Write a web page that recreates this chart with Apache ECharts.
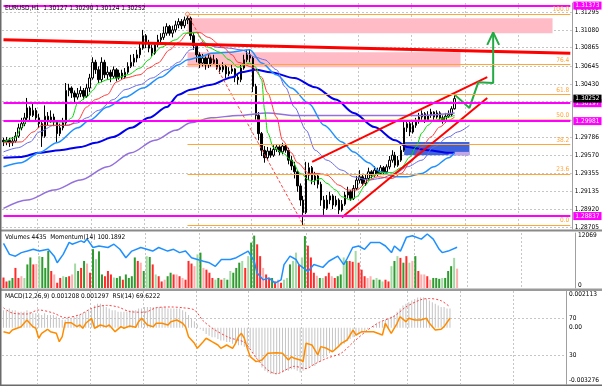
<!DOCTYPE html>
<html>
<head>
<meta charset="utf-8">
<script src="https://cdn.jsdelivr.net/npm/echarts@6/dist/echarts.min.js"></script>
<style>
  html, body { margin: 0; padding: 0; background: #fff; }
  #chart { width: 602px; height: 386px; }
</style>
</head>
<body>
<div id="chart"></div>
<script>
// EURUSD H1 - candles, 6 moving averages, volumes + momentum, MACD + RSI
const FONT = "'Liberation Sans Narrow','DejaVu Sans Condensed','Liberation Sans',sans-serif";
const SLOTS = 192; // bar slots incl. empty right margin

const firstOpen = 1.2975;
const closes = [1.2973,1.2975,1.2972,1.2974,1.2980,1.2990,1.2995,1.3002,1.3014,1.3005,1.3011,1.3002,1.2995,1.2980,1.3004,1.2999,1.3003,1.2997,1.2983,1.2990,
  1.2996,1.3035,1.3038,1.3032,1.3027,1.3031,1.3035,1.3028,1.3038,1.3050,1.3069,1.3060,1.3048,1.3069,1.3054,1.3057,1.3052,1.3060,1.3050,1.3056,
  1.3051,1.3057,1.3064,1.3069,1.3074,1.3078,1.3086,1.3101,1.3091,1.3086,1.3080,1.3090,1.3096,1.3099,1.3104,1.3112,1.3104,1.3108,1.3114,1.3118,
  1.3113,1.3120,1.3122,1.3101,1.3089,1.3078,1.3068,1.3074,1.3066,1.3074,1.3068,1.3072,1.3063,1.3060,1.3064,1.3055,1.3058,1.3061,1.3051,1.3048,
  1.3062,1.3072,1.3078,1.3074,1.3040,1.3005,1.2983,1.2963,1.2954,1.2962,1.2957,1.2964,1.2967,1.2961,1.2968,1.2963,1.2951,1.2944,1.2937,1.2920,
  1.2903,1.2888,1.2933,1.2942,1.2927,1.2932,1.2922,1.2903,1.2893,1.2903,1.2908,1.2897,1.2903,1.2891,1.2898,1.2909,1.2913,1.2905,1.2917,1.2927,
  1.2931,1.2923,1.2929,1.2937,1.2933,1.2939,1.2935,1.2942,1.2937,1.2943,1.2951,1.2957,1.2945,1.2951,1.2963,1.2990,1.2995,1.2985,1.2993,1.2998,
  1.3003,1.3007,1.2999,1.3005,1.3009,1.3003,1.3008,1.3002,1.2998,1.3004,1.3006,1.3013,1.30252];
const highs = [1.2978,1.2979,1.2978,1.2979,1.2985,1.2995,1.3002,1.3008,1.3026,1.3016,1.3019,1.3014,1.3007,1.2997,1.3017,1.3009,1.3011,1.3007,1.2999,1.2995,
  1.3002,1.3044,1.3043,1.3040,1.3035,1.3038,1.3040,1.3038,1.3043,1.3055,1.3075,1.3072,1.3064,1.3075,1.3072,1.3064,1.3060,1.3064,1.3062,1.3060,
  1.3060,1.3062,1.3069,1.3078,1.3079,1.3084,1.3091,1.3108,1.3103,1.3096,1.3090,1.3093,1.3102,1.3104,1.3112,1.3116,1.3114,1.3113,1.3119,1.3122,
  1.3121,1.3124,1.3127,1.3124,1.3104,1.3091,1.3081,1.3079,1.3076,1.3079,1.3076,1.3078,1.3074,1.3067,1.3069,1.3067,1.3063,1.3066,1.3062,1.3055,
  1.3067,1.3078,1.3084,1.3084,1.3076,1.3043,1.3009,1.2985,1.2968,1.2967,1.2966,1.2969,1.2970,1.2969,1.2972,1.2970,1.2966,1.2956,1.2949,1.2939,
  1.2923,1.2908,1.2949,1.2948,1.2944,1.2937,1.2934,1.2925,1.2908,1.2909,1.2913,1.2910,1.2908,1.2905,1.2903,1.2913,1.2919,1.2915,1.2921,1.2932,
  1.2939,1.2934,1.2934,1.2942,1.2939,1.2944,1.2942,1.2945,1.2944,1.2946,1.2956,1.2963,1.2961,1.2956,1.2968,1.2997,1.2999,1.2997,1.2997,1.3002,
  1.3008,1.3011,1.3009,1.3010,1.3013,1.3010,1.3011,1.3010,1.3005,1.3008,1.3011,1.3016,1.3029];
const lows = [1.2968,1.2969,1.2967,1.2968,1.2972,1.2978,1.2987,1.2992,1.2999,1.2999,1.3003,1.2997,1.2990,1.2967,1.2978,1.2993,1.2996,1.2992,1.2973,1.2980,
  1.2987,1.2993,1.3028,1.3026,1.3020,1.3024,1.3027,1.3024,1.3026,1.3033,1.3048,1.3055,1.3044,1.3045,1.3050,1.3048,1.3045,1.3050,1.3046,1.3048,
  1.3048,1.3049,1.3055,1.3062,1.3064,1.3069,1.3074,1.3084,1.3086,1.3081,1.3076,1.3078,1.3087,1.3092,1.3096,1.3101,1.3101,1.3099,1.3105,1.3110,
  1.3109,1.3110,1.3115,1.3096,1.3084,1.3069,1.3062,1.3064,1.3060,1.3062,1.3064,1.3066,1.3060,1.3055,1.3057,1.3050,1.3052,1.3055,1.3045,1.3042,
  1.3045,1.3060,1.3069,1.3069,1.3033,1.2999,1.2975,1.2956,1.2948,1.2951,1.2954,1.2955,1.2961,1.2957,1.2958,1.2960,1.2946,1.2939,1.2929,1.2913,
  1.2896,1.2873,1.2886,1.2927,1.2922,1.2921,1.2917,1.2896,1.2885,1.2891,1.2898,1.2892,1.2895,1.2886,1.2889,1.2896,1.2905,1.2902,1.2903,1.2915,
  1.2923,1.2920,1.2920,1.2927,1.2929,1.2931,1.2932,1.2933,1.2933,1.2934,1.2940,1.2948,1.2942,1.2943,1.2949,1.2961,1.2985,1.2980,1.2983,1.2990,
  1.2995,1.2999,1.2996,1.2997,1.3002,1.2999,1.3001,1.2998,1.2995,1.2996,1.3002,1.3004,1.3012];

// moving averages: [bar index, price]
const maGreen = [[0,1.2973],[4,1.2978],[6,1.2990],[8,1.2999],[11,1.2999],[16,1.2997],[21,1.2997],[23,1.3002],[25,1.3020],[28,1.3027],[30,1.3035],[32,1.3044],[35,1.3048],[38,1.3050],[42,1.3054],[46,1.3062],[49,1.3072],[51,1.3081],[53,1.3087],[58,1.3096],[61,1.3104],[65,1.3105],[67,1.3096],[69,1.3087],[73,1.3081],[76,1.3072],[79,1.3063],[83,1.3068],[85,1.3063],[87,1.3048],[88,1.3011],[89,1.2984],[91,1.2966],[94,1.2960],[97,1.2951],[100,1.2935],[103,1.2927],[104,1.2925],[107,1.2929],[109,1.2923],[112,1.2915],[114,1.2907],[117,1.2903],[119,1.2907],[122,1.2921],[124,1.2931],[127,1.2936],[131,1.2936],[134,1.2942],[137,1.2955],[139,1.2967],[141,1.2984],[143,1.2993],[145,1.2999],[149,1.3002],[150,1.3003],[152,1.3005]];
const maRed = [[0,1.2972],[6,1.2973],[10,1.2985],[13,1.2993],[18,1.2993],[22,1.2993],[25,1.2999],[28,1.3015],[31,1.3024],[35,1.3030],[38,1.3045],[41,1.3050],[46,1.3054],[49,1.3062],[52,1.3068],[56,1.3084],[59,1.3093],[62,1.3104],[66,1.3105],[69,1.3099],[74,1.3087],[77,1.3078],[79,1.3069],[84,1.3063],[87,1.3051],[89,1.3032],[92,1.3003],[94,1.2975],[97,1.2960],[99,1.2948],[103,1.2935],[106,1.2935],[109,1.2933],[113,1.2921],[116,1.2915],[119,1.2915],[123,1.2927],[126,1.2931],[131,1.2929],[134,1.2935],[137,1.2948],[141,1.2967],[144,1.2979],[147,1.2991],[150,1.2999],[152,1.3003]];
const maSlate = [[0,1.2961],[5,1.2966],[9,1.2973],[12,1.2985],[17,1.2993],[21,1.2993],[25,1.2996],[28,1.3002],[32,1.3011],[37,1.3024],[41,1.3036],[46,1.3042],[50,1.3050],[55,1.3060],[59,1.3069],[63,1.3084],[67,1.3093],[72,1.3087],[76,1.3086],[80,1.3084],[85,1.3075],[88,1.3072],[92,1.3060],[95,1.3039],[98,1.3015],[102,1.2987],[105,1.2963],[109,1.2951],[114,1.2939],[118,1.2931],[123,1.2927],[127,1.2929],[132,1.2935],[136,1.2943],[141,1.2951],[145,1.2967],[150,1.2979],[153,1.2985],[157,1.2993]];
const maDodger = [[0,1.2943],[6,1.2948],[12,1.2960],[18,1.2972],[25,1.2990],[29,1.2999],[35,1.3015],[41,1.3027],[47,1.3038],[53,1.3051],[59,1.3066],[62,1.3072],[66,1.3075],[70,1.3080],[76,1.3081],[83,1.3084],[87,1.3068],[92,1.3054],[97,1.3038],[103,1.3019],[108,1.2993],[114,1.2973],[118,1.2961],[123,1.2948],[127,1.2937],[132,1.2931],[136,1.2931],[141,1.2935],[145,1.2943],[150,1.2954],[152,1.2960]];
const maBlue = [[0,1.2954],[6,1.2955],[12,1.2960],[19,1.2963],[26,1.2967],[31,1.2972],[37,1.2979],[43,1.2990],[49,1.3002],[55,1.3015],[59,1.3030],[63,1.3036],[70,1.3042],[77,1.3051],[80,1.3057],[85,1.3060],[90,1.3057],[98,1.3050],[105,1.3039],[112,1.3024],[118,1.3008],[125,1.2991],[132,1.2975],[136,1.2967],[143,1.2963],[150,1.2960],[152,1.2960]];
const maPurple = [[0,1.2893],[8,1.2903],[17,1.2915],[26,1.2927],[35,1.2943],[43,1.2960],[51,1.2975],[58,1.2987],[63,1.2996],[70,1.3002],[79,1.3005],[89,1.3008],[98,1.3005],[109,1.3005],[120,1.3005],[132,1.3005],[141,1.3005],[152,1.3008]];

// drawn objects
const magentaLevels = [1.31373, 1.30197, 1.29981, 1.28837];
const lastPrice = 1.30252;
const fibLevels = [1.3127, 1.3066, 1.3030, 1.3000, 1.2970, 1.2934, 1.2873];
const fibNames = ['100.0', '76.4', '61.8', '50.0', '38.2', '23.6', '0.0'];
const fibStart = 62;
const fibBase = [[62, 1.3127], [101, 1.2873]];
const trendLine = [[0, 1.3096], [191, 1.3080]];
const channelTop = [[104, 1.2949], [163, 1.3051]];
const channelBottom = [[114, 1.2882], [163, 1.3026]];
const arrowPath = [[152, 1.3030], [157, 1.3014], [160, 1.3045], [165, 1.3044], [165, 1.3105]];
const arrowHead = [[163, 1.3090], [165, 1.3105], [167, 1.3090]];
const pinkZones = [[[62, 1.3122], [185, 1.3104]], [[62, 1.3081], [154, 1.3063]]];
const blueZone = [[135, 1.2973], [157, 1.2957]];
const blueZoneTail = [[150, 1.2961], [157, 1.2957]];

const priceTicks = [1.31295,1.31080,1.30865,1.30645,1.30430,1.30215,1.29995,1.29786,1.29570,1.29355,1.29135,1.28920,1.28705];
const priceLabels = [1.31295,1.31080,1.30865,1.30645,1.30430,1.29786,1.29570,1.29355,1.29135,1.28920,1.28705];

// volumes: value + kind (G up, L up weak, R down, P down weak)
const volumes = [2400,1500,1700,2300,4600,2300,2700,2300,5400,7000,5400,5500,7300,7100,4600,8500,3900,3100,1200,2300,
  2700,2500,2700,3100,5600,3900,4600,6200,5600,3500,8900,6600,8400,3100,2700,3900,3100,2400,2300,2700,
  1900,3100,2300,2700,7000,6200,5800,3900,7300,7100,5400,3100,2700,1500,1900,2700,3500,3100,3100,2700,
  2300,1900,6200,5600,5000,7700,8100,4600,4200,3500,2300,1900,2300,1900,2300,1900,3900,3500,4600,5800,
  6200,4600,7300,10400,12000,10000,7300,4600,3100,2300,2300,1500,1900,1200,1900,2300,5400,6200,8100,5400,
  7000,11900,9700,7000,3500,2800,2300,2300,2700,3500,2700,2300,2700,3100,7000,6200,6200,6000,8500,5800,
  4200,2700,2300,2700,1900,2300,1900,1500,1900,1500,5000,6200,7300,6900,5800,7300,5800,6200,7300,3900,
  3100,3100,2700,1900,2300,2300,2100,2300,2300,3900,5000,6900,4435];
const volumeKind = ('RRGGRRPLGGRPLGGGRPRRLGRPLGRGPRGLGGRRRLGGRGGGGRPGLGRLRRPGGRPRPRRRPLGPRRRLGRLGLGGGLRLGGRRPRRGRPRLLGLLRLGRRRPGLRRPRGGLGRRLRRRPPGLGLRRLGLRGRLPGRPPRPGGGLGGGLP').split('');
const momentum = [[0,100.34],[2,99.91],[4,99.84],[6,99.98],[8,100.04],[10,100.11],[12,100.04],[15,100.11],[17,99.84],[18,99.58],[20,99.91],[22,100.38],[23,100.31],[26,100.44],[27,100.38],[28,100.51],[30,100.18],[32,100.24],[35,100.18],[37,100.31],[39,100.11],[41,99.78],[43,100.04],[46,100.18],[48,100.11],[50,100.04],[52,100.18],[55,100.04],[57,100.11],[59,99.98],[61,100.04],[63,99.78],[65,99.71],[67,99.64],[69,99.58],[71,99.44],[73,99.71],[76,99.71],[78,99.78],[80,99.91],[82,100.04],[84,99.64],[85,99.18],[87,98.91],[89,98.98],[91,98.78],[93,98.91],[94,99.51],[96,99.84],[98,99.71],[99,99.51],[102,99.24],[104,99.51],[107,99.40],[109,99.64],[112,99.84],[114,99.51],[115,99.71],[117,100.18],[119,100.24],[121,100.11],[123,100.38],[126,100.38],[128,100.24],[130,99.98],[131,100.24],[133,100.04],[135,100.58],[137,100.64],[140,100.51],[142,100.71],[144,100.51],[146,100.11],[147,99.98],[149,100.04],[152,100.19]];

// MACD(12,26,9) main as histogram, signal dotted; RSI(14)
const macdHist = [0.0011,0.0011,0.0012,0.0011,0.0011,0.0010,0.0010,0.0010,0.0011,0.0010,0.0009,0.0009,0.0009,0.0008,0.0009,0.0008,0.0008,0.0008,
  0.0007,0.0006,0.0005,0.0005,0.0006,0.0006,0.0007,0.0007,0.0008,0.0009,0.0010,0.0011,0.0012,0.0014,0.0015,0.0015,0.0014,
  0.0013,0.0012,0.0011,0.0011,0.0010,0.0010,0.0010,0.0010,0.0011,0.0011,0.0011,0.0012,0.0012,0.0013,0.0013,0.0013,0.0013,0.0013,
  0.0013,0.0013,0.0013,0.0012,0.0012,0.0012,0.0012,0.0012,0.0011,0.0010,0.0008,0.0006,0.0004,0.0002,
  -0.0001,-0.0002,-0.0004,-0.0005,-0.0006,-0.0006,-0.0007,-0.0008,-0.0008,-0.0009,-0.0009,-0.0010,-0.0010,-0.0011,
  -0.0011,-0.0012,-0.0012,-0.0013,-0.0016,-0.0019,-0.0022,-0.0025,-0.0027,-0.0028,-0.0029,-0.0029,-0.0029,-0.0028,-0.0028,-0.0027,
  -0.0027,-0.0026,-0.0026,-0.0027,-0.0028,-0.0027,-0.0026,-0.0025,-0.0024,-0.0024,-0.0022,-0.0021,-0.0019,-0.0018,-0.0016,-0.0015,
  -0.0014,-0.0012,-0.0011,-0.0010,-0.0008,-0.0007,-0.0006,-0.0005,-0.0004,-0.0003,-0.0002,-0.0001,0.0000,0.0001,0.0002,0.0003,
  0.0004,0.0005,0.0006,0.0007,0.0008,0.0010,0.0012,0.0014,0.0015,0.0016,0.0017,0.0018,0.0019,0.0019,0.0019,0.0018,
  0.0017,0.0016,0.0015,0.0014,0.0013,0.0013,0.0012,0.0012];
const macdSignal = [[0,0.00125],[3,0.00092],[8,0.00086],[12,0.00111],[17,0.00092],[21,0.00063],[26,0.00082],[30,0.00121],[35,0.0014],[39,0.0013],[43,0.00101],[48,0.00097],[52,0.00125],[57,0.0013],[61,0.00125],[65,0.00111],[68,0.00043],[72,-0.00014],[77,-0.00063],[82,-0.00092],[86,-0.00188],[90,-0.00265],[93,-0.00289],[96,-0.00265],[99,-0.00242],[103,-0.00256],[106,-0.00227],[110,-0.00192],[115,-0.00159],[119,-0.00092],[124,-0.00014],[128,0.00034],[133,0.00072],[137,0.0013],[142,0.00175],[145,0.00183],[149,0.00169],[152,0.0013]];
const rsi = [[0,55.2],[2,53.4],[3,57],[6,60.6],[7,64.3],[8,67.8],[10,60.6],[11,58.9],[12,48.1],[13,53.4],[15,57.8],[16,55.2],[18,53.4],[19,44.4],[20,49.8],[21,64.9],[23,64.9],[25,60.6],[26,62.4],[27,58.9],[28,64.3],[30,69.7],[31,58.9],[33,62.4],[35,60.6],[36,62.4],[38,55.2],[40,60.6],[41,58.9],[43,61.4],[45,59.9],[46,66],[47,69.7],[49,62.4],[51,60.6],[52,64.3],[54,64.3],[56,62.4],[57,66],[59,67.8],[61,64.3],[62,60.6],[63,49.8],[65,42.6],[66,37.2],[67,40.8],[68,44.4],[69,48.1],[71,44.4],[73,40.8],[74,37.2],[76,40.8],[78,37.2],[79,42.6],[80,49.8],[81,53.4],[82,48.1],[83,37.2],[84,28.2],[86,22.8],[88,24.6],[90,31.8],[93,32.5],[95,31.8],[97,24.6],[98,28.2],[99,26.4],[101,24.6],[102,22.8],[103,42.6],[105,40.8],[107,30],[108,39],[110,37.2],[112,33.5],[114,39],[115,42.6],[117,46.2],[119,57],[120,51.6],[122,55.2],[124,55.2],[126,55.2],[129,51.6],[130,64.3],[132,53.4],[134,64.3],[135,71.4],[137,66],[138,69.7],[140,67.8],[142,67.8],[144,69.7],[145,64.3],[147,57],[149,57.8],[150,60.6],[152,69.7]];

const slots = Array.from({ length: SLOTS }, (_, i) => String(i));
const candles = closes.map((c, i) => [i ? closes[i - 1] : firstOpen, c, lows[i], highs[i]]);
const volColors = { G: '#2f9a2f', L: '#a3d9a3', R: '#ff2b2b', P: '#ffadad' };

const chart = echarts.init(document.getElementById('chart'));

const lbl = { fontSize: 6.5, color: '#000', fontFamily: FONT, margin: 3 };
const gridDash = { color: '#c6c6c6', type: [2, 2], width: 1 };
const vGrid = (idx) => idx >= 12 && (idx - 12) % 18 === 0;
const xAx = (g) => ({
  type: 'category', gridIndex: g, data: slots, boundaryGap: true,
  axisLine: { show: false }, axisTick: { show: false }, axisLabel: { show: false },
  splitLine: { show: true, interval: vGrid, lineStyle: gridDash }
});
const rightLine = { show: true, lineStyle: { color: '#a0a0a0', width: 1 } };

const line = (data, color, width, extra) => Object.assign({
  type: 'line', xAxisIndex: 0, yAxisIndex: 0, data, showSymbol: false, symbol: 'none',
  lineStyle: { color, width }, z: 3, silent: true
}, extra || {});
const ma = (data, color, width) => line(data, color, width, { smooth: 0.3, smoothMonotone: 'x' });

const boxLabel = (text, bg) => ({
  show: true, position: 'end', distance: 3, formatter: text, color: '#fff',
  backgroundColor: bg, fontSize: 6.5, fontFamily: FONT, padding: [1, 2, 0, 2]
});

// horizontal levels as two-point mark lines across the whole panel
const levelLines = [];
magentaLevels.forEach(v => levelLines.push([
  { coord: [0, v], lineStyle: { color: '#ff00ff', width: 2, type: 'solid' }, label: boxLabel(v.toFixed(5), '#ff00ff') },
  { coord: [SLOTS - 1, v] }
]));
levelLines.push([
  { coord: [0, lastPrice], lineStyle: { color: 'rgba(0,0,0,0)', width: 1 }, label: boxLabel(lastPrice.toFixed(5), '#000') },
  { coord: [SLOTS - 1, lastPrice] }
]);
fibLevels.forEach((v, k) => levelLines.push([
  { coord: [fibStart, v], lineStyle: { color: k === 3 ? '#e8b400' : '#ffa53a', width: 1, type: k === 3 ? 'dotted' : 'solid' },
    label: { show: true, position: 'insideEndTop', formatter: fibNames[k], color: '#ffa53a', fontSize: 6.5, fontFamily: FONT, distance: 1 } },
  { coord: [SLOTS - 1, v] }
]));

const option = {
  animation: false,
  backgroundColor: '#fff',
  textStyle: { fontFamily: FONT },
  grid: [
    { left: 2, top: 3, width: 573, height: 226 },
    { left: 2, top: 233, width: 573, height: 55 },
    { left: 2, top: 291, width: 573, height: 93 }
  ],
  xAxis: [xAx(0), xAx(1), xAx(2)],
  yAxis: [
    { type: 'value', gridIndex: 0, position: 'right', min: 1.28681, max: 1.31404, axisLine: rightLine,
      axisTick: { show: false, customValues: priceTicks },
      axisLabel: Object.assign({ customValues: priceLabels, formatter: v => v.toFixed(5) }, lbl),
      splitLine: { show: true, lineStyle: gridDash } },
    { type: 'value', gridIndex: 1, position: 'right', min: 0, max: 12600, axisLine: rightLine,
      axisTick: { show: false },
      axisLabel: Object.assign({ customValues: [700, 12069], formatter: v => (v === 12069 ? '12069' : '0') }, lbl),
      splitLine: { show: false } },
    { type: 'value', gridIndex: 1, position: 'right', min: 98.59, max: 100.75, show: false },
    { type: 'value', gridIndex: 2, position: 'right', min: -0.003527, max: 0.002301, axisLine: rightLine,
      axisTick: { show: false },
      axisLabel: Object.assign({ customValues: [0.002113, 0, -0.003276], formatter: v => (v === 0 ? '0.00' : v.toFixed(6)) }, lbl),
      splitLine: { show: false } },
    { type: 'value', gridIndex: 2, position: 'right', min: -1.4, max: 99.2, axisLine: { show: false },
      axisTick: { show: false, customValues: [30, 70] },
      axisLabel: Object.assign({ customValues: [30, 70] }, lbl),
      splitLine: { show: true, lineStyle: gridDash } }
  ],
  graphic: [
    { type: 'rect', shape: { x: 0, y: 229.5, width: 602, height: 2 }, style: { fill: '#8a8a8a' }, z: 50 },
    { type: 'rect', shape: { x: 0, y: 288.5, width: 602, height: 2.5 }, style: { fill: '#9a9a9a' }, z: 50 },
    { type: 'rect', shape: { x: 0, y: 0, width: 1.5, height: 386 }, style: { fill: '#6a6a6a' }, z: 50 },
    { type: 'rect', shape: { x: 0, y: 384.5, width: 602, height: 1.5 }, style: { fill: '#6a6a6a' }, z: 50 },
    { type: 'text', left: 5, top: 5, z: 60, style: { text: 'EURUSD,H1  1.30127 1.30290 1.30124 1.30252', fill: '#000', font: '6.5px ' + FONT } },
    { type: 'text', left: 5, top: 234, z: 60, style: { text: 'Volumes 4435  Momentum(14) 100.1892', fill: '#000', font: '6.5px ' + FONT } },
    { type: 'text', left: 5, top: 293, z: 60, style: { text: 'MACD(12,26,9) 0.001208 0.001297  RSI(14) 69.6222', fill: '#000', font: '6.5px ' + FONT } }
  ],
  series: [
    { type: 'line', xAxisIndex: 0, yAxisIndex: 0, data: [], z: 1, silent: true,
      markArea: { silent: true, data: [
        ...pinkZones.map(z => [{ coord: z[0], itemStyle: { color: '#ffbcc7' } }, { coord: z[1] }]),
        [{ coord: blueZone[0], itemStyle: { color: '#3f63dc' } }, { coord: blueZone[1] }],
        [{ coord: blueZoneTail[0], itemStyle: { color: '#c4a6e8' } }, { coord: blueZoneTail[1] }]
      ] } },
    { type: 'candlestick', xAxisIndex: 0, yAxisIndex: 0, data: candles, barWidth: 2, z: 2, silent: true,
      itemStyle: { color: '#fff', color0: '#000', borderColor: '#000', borderColor0: '#000', borderWidth: 1 } },
    { type: 'line', xAxisIndex: 0, yAxisIndex: 0, data: [], z: 2, silent: true,
      markLine: { silent: true, symbol: 'none', animation: false, data: levelLines } },
    ma(maPurple, '#9370db', 1.5),
    ma(maBlue, '#0000ee', 2),
    ma(maDodger, '#1e90ff', 1.5),
    ma(maSlate, '#6a6ae6', 1),
    ma(maRed, '#ff3b3b', 1),
    ma(maGreen, '#00dd00', 1),
    line(fibBase, '#ff4040', 1, { lineStyle: { color: '#ff4040', width: 1, type: [3, 2] } }),
    line(trendLine, '#ff0000', 3, { z: 4 }),
    line(channelTop, '#ff0000', 2, { z: 4 }),
    line(channelBottom, '#ff0000', 2, { z: 4 }),
    line(arrowPath, '#22aa44', 2, { z: 4 }),
    line(arrowHead, '#22aa44', 2, { z: 4 }),
    { type: 'scatter', xAxisIndex: 0, yAxisIndex: 0, data: [[fibStart, fibLevels[0]]], symbol: 'circle', symbolSize: 4,
      itemStyle: { color: '#fff', borderColor: '#ff6a3a', borderWidth: 1 }, z: 5, silent: true },
    { type: 'bar', xAxisIndex: 1, yAxisIndex: 1, barWidth: 2, silent: true,
      data: volumes.map((v, i) => ({ value: v, itemStyle: { color: volColors[volumeKind[i]] } })) },
    { type: 'line', xAxisIndex: 1, yAxisIndex: 2, data: momentum, showSymbol: false, symbol: 'none', silent: true,
      lineStyle: { color: '#1e90ff', width: 1.5 }, z: 3 },
    { type: 'bar', xAxisIndex: 2, yAxisIndex: 3, barWidth: 1, data: macdHist, silent: true,
      itemStyle: { color: '#c4c4c4' } },
    { type: 'line', xAxisIndex: 2, yAxisIndex: 3, data: macdSignal, showSymbol: false, symbol: 'none', silent: true,
      smooth: 0.3, lineStyle: { color: '#ff4040', width: 1, type: [2, 2] }, z: 3 },
    { type: 'line', xAxisIndex: 2, yAxisIndex: 4, data: rsi, showSymbol: false, symbol: 'none', silent: true,
      lineStyle: { color: '#ff8c00', width: 1.5 }, z: 4 }
  ]
};

chart.setOption(option);
</script>
</body>
</html>
